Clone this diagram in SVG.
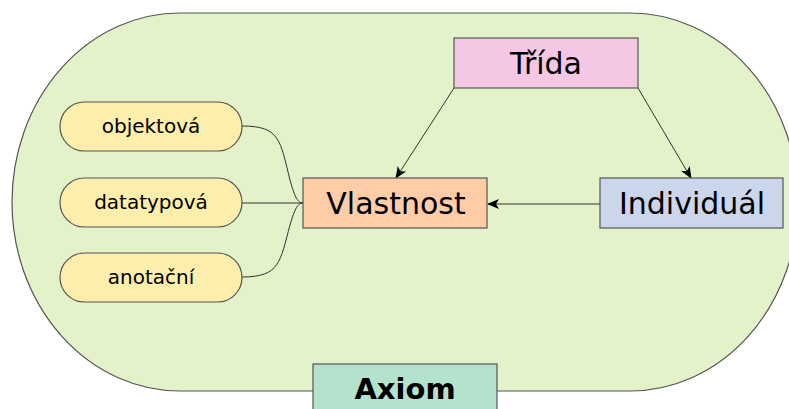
<svg xmlns="http://www.w3.org/2000/svg" width="789" height="409" viewBox="0 0 789 409">
  <style>
    .box { stroke: #555555; stroke-width: 1.2; }
    .pill { fill: #fdefab; stroke: #555555; stroke-width: 1.2; }
    .lbl { font-family: "DejaVu Sans", Verdana, sans-serif; fill: #000000; text-anchor: middle; }
    .big { font-size: 30px; }
    .small { font-size: 20px; }
    .edge { fill: none; stroke: #333333; stroke-width: 1; }
  </style>
  <defs>
    <marker id="arrow" viewBox="0 0 12 10" refX="11" refY="5" markerWidth="12" markerHeight="10" markerUnits="userSpaceOnUse" orient="auto">
      <path d="M0,0 L12,5 L0,10 L3,5 Z" fill="#000000"/>
    </marker>
  </defs>

  <rect width="789" height="409" fill="#ffffff"/>

  <!-- ontology area -->
  <g id="ontology">
    <rect x="12" y="13" width="786" height="378" rx="168" ry="189" fill="#e3f2c8" stroke="#555555" stroke-width="1.2"/>
  </g>

  <!-- connectors -->
  <g id="connectors">
    <path class="edge" d="M242,126 C280,126 280,140 290,180 C295,198 298,203 303,203"/>
    <path class="edge" d="M242,203 L303,203"/>
    <path class="edge" d="M242,277 C280,277 280,262 290,225 C295,208 298,203 303,203"/>
    <path class="edge" d="M454,88 L396,178" marker-end="url(#arrow)"/>
    <path class="edge" d="M638,88 L691,178" marker-end="url(#arrow)"/>
    <path class="edge" d="M600,204 L488,204" marker-end="url(#arrow)"/>
  </g>

  <g id="trida">
    <rect class="box" x="454" y="38" width="184" height="50" fill="#f4c8e4"/>
    <text class="lbl big" x="546" y="74">Třída</text>
  </g>

  <g id="vlastnost">
    <rect class="box" x="303" y="178" width="184" height="50" fill="#ffcca8"/>
    <text class="lbl big" x="396" y="214">Vlastnost</text>
  </g>

  <g id="individual">
    <rect class="box" x="600" y="178" width="183" height="50" fill="#ccd6ea"/>
    <text class="lbl big" x="692" y="214">Individuál</text>
  </g>

  <g id="objektova">
    <rect class="pill" x="60" y="102" width="182" height="49" rx="24.5" ry="24.5"/>
    <text class="lbl small" x="151" y="133">objektová</text>
  </g>

  <g id="datatypova">
    <rect class="pill" x="60" y="178" width="182" height="49" rx="24.5" ry="24.5"/>
    <text class="lbl small" x="151" y="209">datatypová</text>
  </g>

  <g id="anotacni">
    <rect class="pill" x="60" y="253" width="182" height="49" rx="24.5" ry="24.5"/>
    <text class="lbl small" x="151" y="284">anotační</text>
  </g>

  <g id="axiom">
    <rect class="box" x="313" y="364" width="184" height="60" fill="#b3e2cd"/>
    <text class="lbl" x="405" y="399" font-size="29" font-weight="bold">Axiom</text>
  </g>
</svg>
